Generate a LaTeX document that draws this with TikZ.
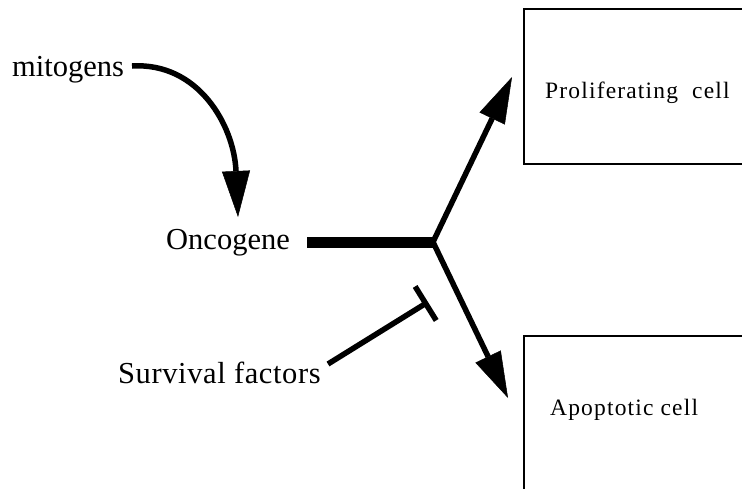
\documentclass[tikz,border=0pt]{standalone}
\usepackage{fontspec}
\setmainfont{Liberation Serif}
\usetikzlibrary{arrows.meta}
\begin{document}
\begin{tikzpicture}[x=1pt,y=-1pt,
  biglabel/.style={inner sep=0pt, anchor=base west, font=\fontsize{30.5}{34}\selectfont},
  celltext/.style={inner sep=0pt, anchor=base west, font=\fontsize{23.5}{26}\selectfont\addfontfeature{LetterSpace=5}},
  cellbox/.style={draw, line width=1.8pt, anchor=north west, minimum width=260pt, minimum height=155pt, inner sep=0pt},
  wire/.style={line width=5.5pt},
  push/.style={wire, -{Triangle[length=46pt,width=28pt,line width=0.5pt]}},
  block/.style={wire, -{Bar[width=40pt]}}]

\useasboundingbox (0,0) rectangle (742,488);
\clip (0,0) rectangle (742,488);

% labels
\node[biglabel] (mito) at (12,76) {mitogens};
\node[biglabel] (onc) at (166,249) {Oncogene};
\node[biglabel, font=\fontsize{30.5}{34}\selectfont\addfontfeature{LetterSpace=2}] (surv) at (118,383) {Survival factors};

% cell fates (boxes run off the right / bottom edge)
\node[cellbox] (prolif) at (523,8) {};
\node[cellbox] (apop) at (523,335) {};
\node[celltext] (ptext) at (545,98) {Proliferating\ \ cell};
\node[celltext] (atext) at (550,415) {Apoptotic cell};

% connector end points
\coordinate (mstart) at (132,66);
\coordinate (mtip) at (238,217);
\coordinate (ostart) at (307,242);
\coordinate (j) at (433,242);
\coordinate (up) at (512,77);
\coordinate (down) at (508,398);
\coordinate (sstart) at (328,364);
\coordinate (bar) at (428,302);

% mitogens act on the oncogene
\draw[push] (mstart) .. controls (198,62) and (234,125) .. (mtip);

% oncogene signal splits into two fates
\draw[line width=11pt] (ostart) -- (j);
\draw[push] (j) -- (up);
\draw[push] (j) -- (down);

% survival factors block apoptosis
\draw[block] (sstart) -- (bar);
\end{tikzpicture}
\end{document}
